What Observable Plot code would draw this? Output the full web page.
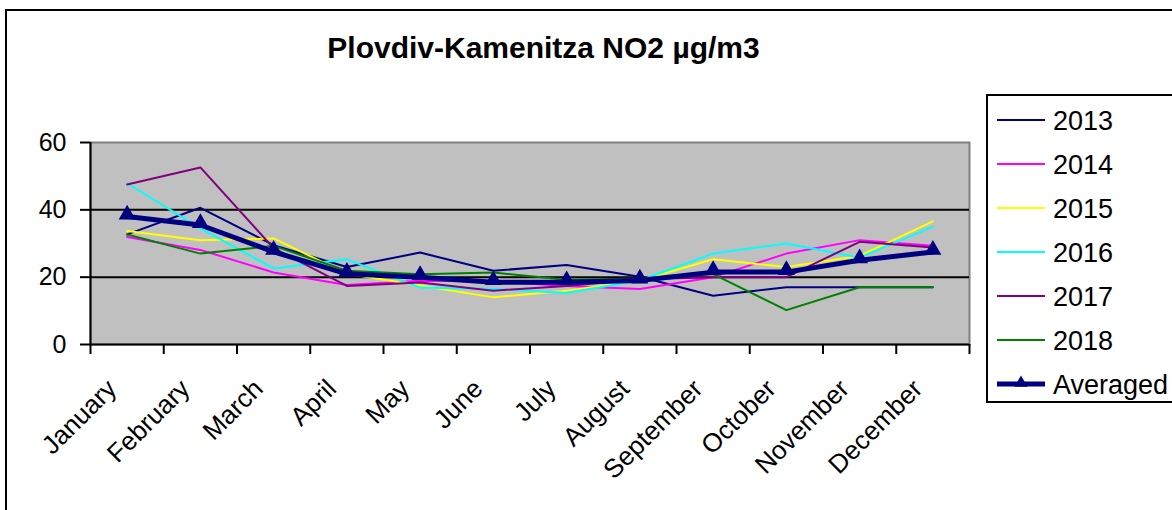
<!DOCTYPE html>
<html>
<head>
<meta charset="utf-8">
<script src="https://cdn.jsdelivr.net/npm/d3@7"></script>
<script src="https://cdn.jsdelivr.net/npm/@observablehq/plot@0.6"></script>
<style>
html, body { margin: 0; padding: 0; background: #fff; }
#wrap { position: relative; width: 1172px; height: 510px; overflow: hidden; background: #fff; }
#wrap svg { position: absolute; left: 0; top: 0; }
</style>
</head>
<body>
<div id="wrap"></div>
<script>
const months = ["January","February","March","April","May","June","July","August","September","October","November","December"];
const seriesNames = ["2013","2014","2015","2016","2017","2018"];
const seriesColors = ["#000080","#FF00FF","#FFFF00","#00FFFF","#800080","#008000"];
const v2013 = [32.7, 40.6, 29.5, 23.0, 27.3, 21.9, 23.6, 20.1, 14.5, 17.0, 17.0, 17.0];
const v2014 = [31.9, 28.1, 21.4, 17.7, 18.9, 18.8, 17.4, 16.5, 20.0, 27.0, 31.0, 29.3];
const v2015 = [33.7, 31.0, 31.5, 21.0, 17.5, 14.0, 16.0, 19.0, 25.3, 23.0, 26.3, 36.6];
const v2016 = [47.9, 34.5, 22.6, 25.3, 16.9, 16.5, 15.3, 19.0, 27.0, 30.0, 25.8, 35.0];
const v2017 = [47.5, 52.6, 28.6, 17.4, 18.4, 16.0, 17.4, 19.4, 20.0, 20.0, 30.5, 28.8];
const v2018 = [32.7, 27.0, 29.3, 21.9, 20.9, 21.4, 19.2, 19.6, 20.9, 10.2, 17.0, 17.0];
const averaged = [38.0, 35.5, 27.5, 21.0, 20.0, 18.5, 18.5, 19.0, 21.5, 21.5, 25.0, 27.5];
const yTicks = [0, 20, 40, 60];
const gridValues = [20, 40];
const titleText = "Plovdiv-Kamenitza NO2 µg/m3";
const averagedName = "Averaged";
const averagedColor = "#000080";

const seriesValues = [v2013, v2014, v2015, v2016, v2017, v2018];
const table = [];
seriesNames.forEach((s, k) => seriesValues[k].forEach((v, i) => table.push({series: s, m: i + 0.5, v})));
const avgTable = averaged.map((v, i) => ({m: i + 0.5, v}));

const FONT = "'Liberation Sans', Arial, Helvetica, sans-serif";
const W = 1172, H = 510;

const chart = Plot.plot({
  width: W,
  height: H,
  marginLeft: 90,
  marginRight: 203,
  marginTop: 142,
  marginBottom: 166,
  style: {fontFamily: FONT, fontSize: "25px", color: "#000", background: "transparent", overflow: "hidden"},
  x: {domain: [0, 12], axis: null},
  y: {domain: [0, 60], axis: null},
  color: {domain: seriesNames, range: seriesColors},
  marks: [
    Plot.frame({fill: "#C0C0C0", stroke: "#808080", strokeWidth: 2}),
    Plot.ruleY(gridValues, {stroke: "#000", strokeWidth: 2}),
    Plot.axisY({ticks: yTicks, tickSize: 10, tickPadding: 14, fontSize: 25, strokeWidth: 2, label: null}),
    Plot.axisX({ticks: d3.range(13), tickSize: 10, tickFormat: () => "", strokeWidth: 2, label: null}),
    Plot.axisX({ticks: d3.range(12).map(i => i + 0.5), tickSize: 0, tickPadding: 40, dx: -15, tickRotate: -45,
      tickFormat: d => months[Math.floor(d)], fontSize: 26, label: null}),
    Plot.ruleX([0], {stroke: "#000", strokeWidth: 2}),
    Plot.ruleY([0], {stroke: "#000", strokeWidth: 2}),
    Plot.line(table, {x: "m", y: "v", z: "series", stroke: "series", strokeWidth: 2}),
    Plot.line(avgTable, {x: "m", y: "v", stroke: averagedColor, strokeWidth: 5}),
    Plot.dot(avgTable, {x: "m", y: "v", symbol: "triangle", r: 6.3, fill: averagedColor, stroke: "none", dy: -2})
  ]
});

document.getElementById("wrap").appendChild(chart);

const svg = d3.select(chart);
// outer chart border (behind everything)
svg.insert("rect", ":first-child")
  .attr("x", 6).attr("y", 10).attr("width", 1400).attr("height", 700)
  .attr("fill", "#fff").attr("stroke", "#000").attr("stroke-width", 2);

// title
svg.append("text")
  .attr("x", 543.5).attr("y", 58)
  .attr("text-anchor", "middle")
  .attr("font-family", FONT).attr("font-weight", "bold").attr("font-size", 30)
  .attr("fill", "#000")
  .text(titleText);

// legend
const lg = svg.append("g").attr("font-family", FONT).attr("font-size", 27).attr("text-anchor", "start");
lg.append("rect").attr("x", 987).attr("y", 95).attr("width", 400).attr("height", 307)
  .attr("fill", "#fff").attr("stroke", "#000").attr("stroke-width", 2);
const legendNames = seriesNames.concat([averagedName]);
const legendColors = seriesColors.concat([averagedColor]);
legendNames.forEach((name, k) => {
  const cy = 120 + k * 44;
  const isAvg = name === averagedName;
  lg.append("line").attr("x1", 997).attr("x2", 1045).attr("y1", cy).attr("y2", cy)
    .attr("stroke", legendColors[k]).attr("stroke-width", isAvg ? 5 : 2);
  if (isAvg) {
    lg.append("path").attr("d", d3.symbol(d3.symbolTriangle, 75)())
      .attr("transform", `translate(1021,${cy - 1})`).attr("fill", averagedColor);
  }
  lg.append("text").attr("x", 1053).attr("y", cy + 9.5).attr("text-anchor", "start").attr("fill", "#000").text(name);
});
</script>
</body>
</html>
